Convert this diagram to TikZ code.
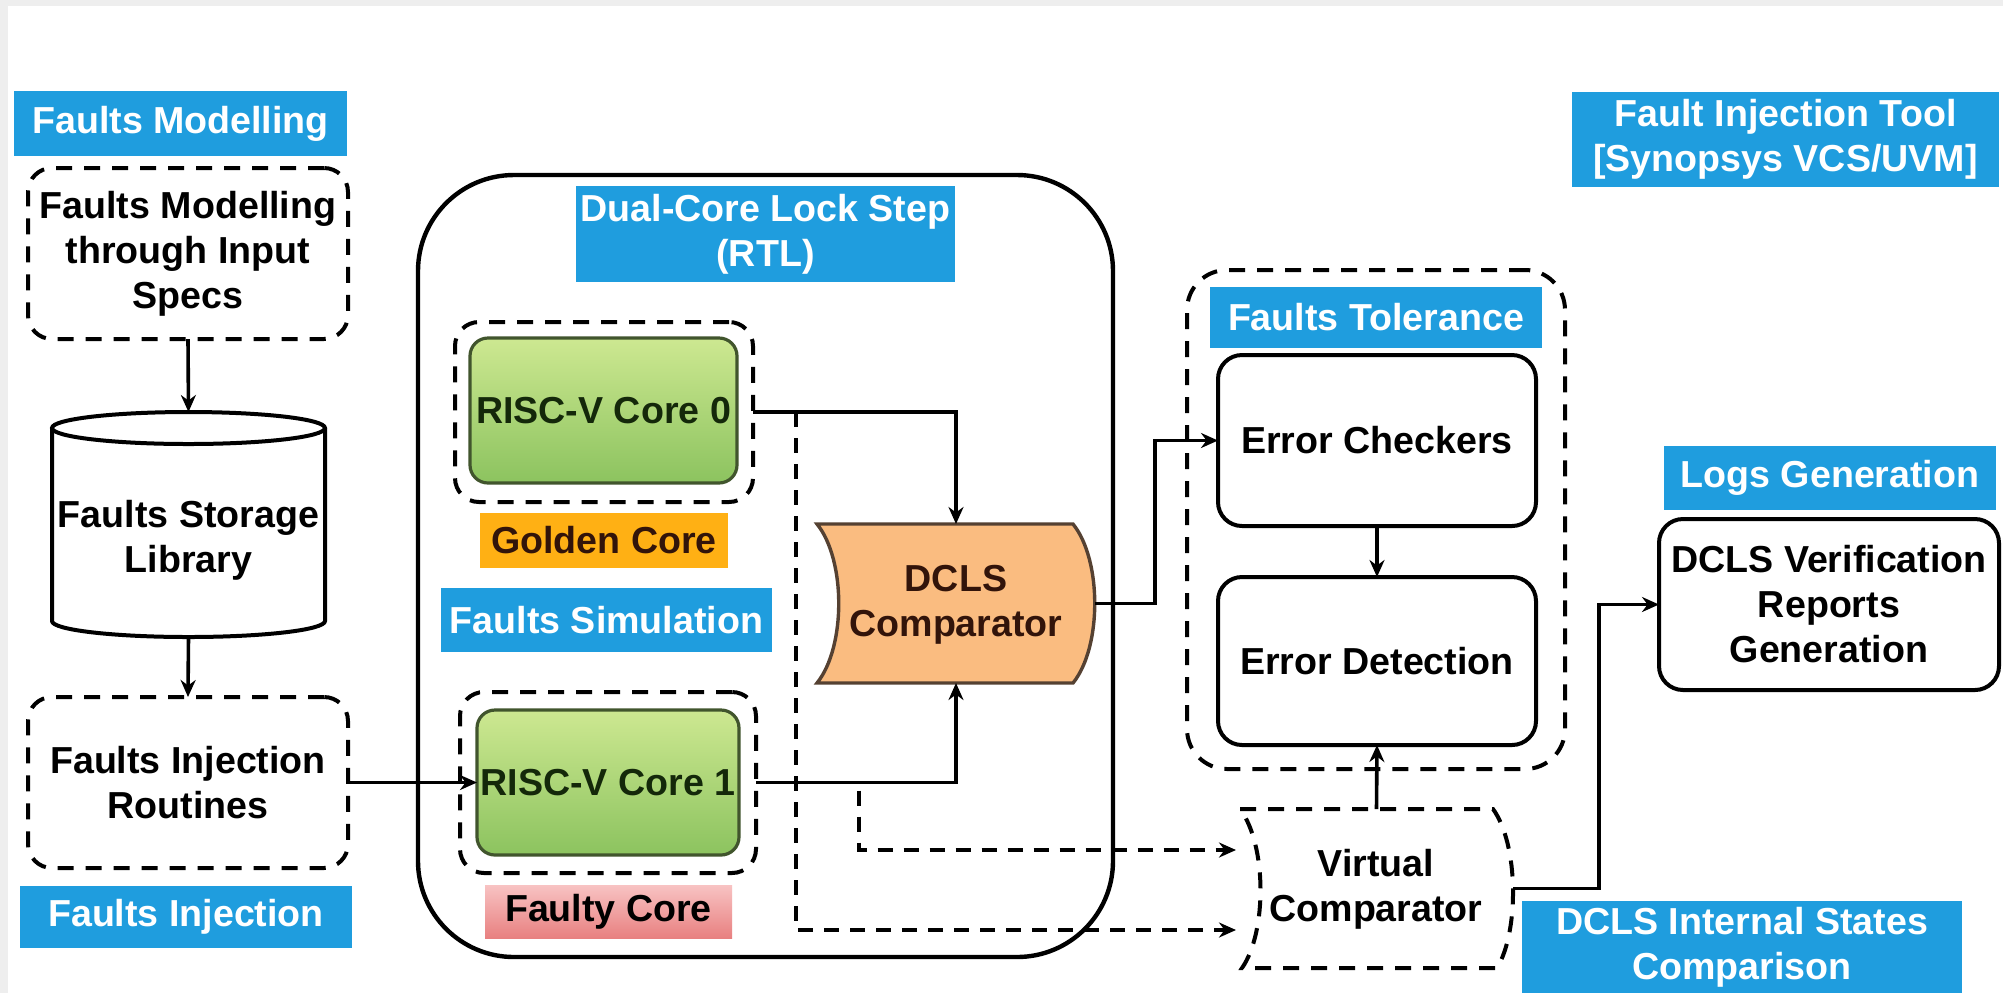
\documentclass[tikz,border=0pt]{standalone}
\usepackage{fontspec}
\setmainfont{Liberation Sans}
\usetikzlibrary{arrows.meta,calc}

\definecolor{labblue}{RGB}{31,157,222}
\definecolor{goldfill}{RGB}{255,176,20}
\definecolor{dclsfill}{RGB}{250,188,128}
\definecolor{dclsedge}{RGB}{85,65,50}
\definecolor{dclstext}{RGB}{50,20,10}
\definecolor{greenedge}{RGB}{65,85,45}
\definecolor{greentop}{RGB}{205,232,145}
\definecolor{greenbot}{RGB}{140,195,95}
\definecolor{greentext}{RGB}{20,40,10}
\definecolor{pinktop}{RGB}{248,195,195}
\definecolor{pinkbot}{RGB}{232,128,128}
\definecolor{framegray}{RGB}{238,238,238}

\tikzset{
  sz/.style 2 args={minimum width={#1*0.5pt},minimum height={#2*0.5pt}},
  txt/.style={font=\fontsize{18.8}{22.5}\selectfont\bfseries, align=center, inner sep=0pt, outer sep=0pt},
  tag/.style={txt, fill=labblue, text=white},
  solidbox/.style={txt, draw, line width=2pt, rounded corners=12pt},
  dashbox/.style={txt, draw, line width=2pt, dash pattern=on 8pt off 6pt, rounded corners=12pt},
  corebox/.style={txt, draw=greenedge, line width=1.6pt, rounded corners=9pt, top color=greentop, bottom color=greenbot, text=greentext},
  link/.style={line width=1.8pt, -{Stealth[length=8.5pt,width=7.5pt]}},
  dlink/.style={link, dash pattern=on 7.5pt off 5.5pt},
}

\begin{document}
\begin{tikzpicture}[x=0.5pt,y=-0.5pt]
\useasboundingbox (0,0) rectangle (2003,993);
\fill[white] (0,0) rectangle (2003,993);
\fill[framegray] (0,0) rectangle (2003,6);
\fill[framegray] (0,0) rectangle (8,993);

% ---- left column: modelling, storage, injection
\node[tag, sz={333}{65}] (fmlab) at (180.5,123.5) {Faults Modelling};
\node[dashbox, sz={320}{171}] (fm) at (188,253.5) {Faults Modelling\\through Input\\Specs};
\node[sz={273}{225}, inner sep=0pt, outer sep=0pt] (lib) at (188.5,524.5) {};
\draw[line width=2pt, fill=white]
  ($(lib.north west)+(0,16)$) -- ($(lib.south west)+(0,-16)$)
  arc[start angle=180,end angle=360,x radius=68.25pt,y radius=8pt]
  -- ($(lib.north east)+(0,16)$);
\draw[line width=2pt, fill=white] ($(lib.north)+(0,16)$) ellipse[x radius=68.25pt, y radius=8pt];
\node[txt] (libtxt) at (188.5,540) {Faults Storage\\Library};
\node[dashbox, sz={320}{171}] (fi) at (188,782.5) {Faults Injection\\Routines};
\node[tag, sz={332}{62}] (filab) at (186,917) {Faults Injection};

% ---- dual-core lock step block
\node[draw, line width=2.2pt, rounded corners=48pt, sz={695}{782}] (dclsys) at (765.5,566) {};
\node[tag, sz={379}{96}] (dclslab) at (765.5,234) {Dual-Core Lock Step\\(RTL)};

\node[dashbox, sz={298}{180}] (c0w) at (604,412) {};
\node[corebox, sz={267}{145}] (c0) at (603.5,410.5) {RISC-V Core 0};
\node[txt, fill=goldfill, text=dclstext, sz={248}{55}] (goldtag) at (604,540.5) {Golden Core};
\node[tag, sz={331}{64}] (fsim) at (606.5,620) {Faults Simulation};

\node[dashbox, sz={296}{181}] (c1w) at (608,782.5) {};
\node[corebox, sz={262}{145}] (c1) at (608,782.5) {RISC-V Core 1};
\node[txt, top color=pinktop, bottom color=pinkbot, text=black, sz={247}{53}] (faulty) at (608.5,911.5) {Faulty Core};

% comparator with both sides bowed to the right
\node[sz={278}{159}, inner sep=0pt, outer sep=0pt] (dcls) at (956,603.5) {};
\draw[line width=1.7pt, draw=dclsedge, fill=dclsfill]
  (dcls.north west) -- ($(dcls.north east)+(-22,0)$)
  .. controls ($(dcls.north east)+(7,36)$) and ($(dcls.south east)+(7,-36)$) .. ($(dcls.south east)+(-22,0)$)
  -- (dcls.south west)
  .. controls ($(dcls.south west)+(29,-36)$) and ($(dcls.north west)+(29,36)$) .. cycle;
\node[txt, text=dclstext] (dclstxt) at (956,605) {DCLS\\Comparator};

% ---- fault tolerance group
\node[dashbox, rounded corners=20pt, sz={378}{499}] (ft) at (1376,519.5) {};
\node[tag, sz={332}{61}] (ftlab) at (1376,317.5) {Faults Tolerance};
\node[solidbox, sz={318}{171}] (ec) at (1377,440.5) {Error Checkers};
\node[solidbox, sz={318}{168}] (ed) at (1377,661) {Error Detection};

% virtual comparator
\node[sz={273}{159}, inner sep=0pt, outer sep=0pt] (vc) at (1376.5,888.5) {};
\draw[line width=2pt, dash pattern=on 8pt off 6pt]
  (vc.north west) -- ($(vc.north east)+(-20,0)$)
  .. controls ($(vc.north east)+(6,36)$) and ($(vc.south east)+(6,-36)$) .. ($(vc.south east)+(-16,0)$)
  -- ($(vc.south west)+(2,0)$)
  .. controls ($(vc.south west)+(27,-36)$) and ($(vc.north west)+(27,36)$) .. cycle;
\node[txt] (vctxt) at (1376,889.5) {Virtual\\Comparator};

% ---- right column
\node[tag, sz={427}{95}] (fitlab) at (1785.5,139.5) {Fault Injection Tool\\{[Synopsys VCS/UVM]}};
\node[tag, sz={332}{64}] (logslab) at (1830,478) {Logs Generation};
\node[solidbox, sz={340}{171}] (verif) at (1829,604.5) {DCLS Verification\\Reports\\Generation};
\node[tag, sz={440}{92}] (intlab) at (1742,947) {DCLS Internal States\\Comparison};

% ---- connectors
\draw[link] (fm.south) -- (lib.north);
\draw[link] (lib.south) -- (fi.north);
\draw[link] (fi.east) -- (fi.east -| c1.west);
\draw[link] (c0w.east) -| (dcls.north);
\draw[link] (c1w.east) -| (dcls.south);
\draw[link] (dcls.east) -- ++(60,0) |- (ec.west);
\draw[link] (ec.south) -- (ed.north);
\draw[link] (vc.north) -- (ed.south);
\draw[link] (vc.east) -- ++(86,0) |- (verif.west);

\coordinate (tapA) at ($(c0w.east)+(43,0)$);
\coordinate (tapB) at ($(c1w.east)+(103,8)$);
\draw[dlink] (tapA) |- ($(vc.west)+(-4,41.5)$);
\draw[dlink] (tapB) |- ($(vc.west)+(-4,-38.5)$);
\end{tikzpicture}
\end{document}
